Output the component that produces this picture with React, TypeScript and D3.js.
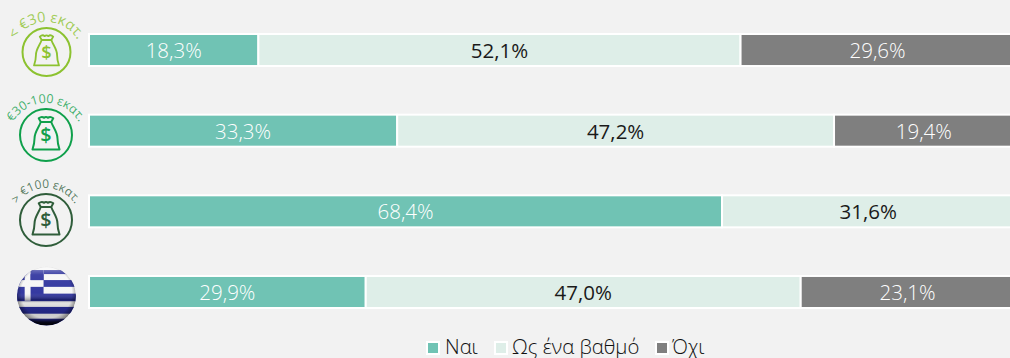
import React from "react";
import * as d3 from "d3";

const categories = ["< €30 εκατ.", "€30-100 εκατ.", "> €100 εκατ.", "Ελλάδα"];
const seriesNames = ["Ναι", "Ως ένα βαθμό", "Όχι"];
const yes = [18.3, 33.3, 68.4, 29.9];
const partly = [52.1, 47.2, 31.6, 47.0];
const no = [29.6, 19.4, 0, 23.1];
const seriesColors = ["#70c3b4", "#deeee8", "#7f7f7f"];
const labelColors = ["#ffffff", "#1a1a1a", "#ffffff"];
const labelWeights = [300, 400, 300];
const iconColors = ["#8cc230", "#0fa04b", "#2f5d3a"];
const FONT = "'Open Sans', sans-serif";

const W = 1010, H = 358;
const x = d3.scaleLinear().domain([0, 100]).range([89, 1014.5]);
const y = d3.scaleBand<number>().domain([0, 1, 2, 3]).range([34, 308]).paddingInner(0.603).paddingOuter(0);
const stack = d3.stack<number>().keys(["0", "1", "2"]).value((i, k) => [yes, partly, no][+k][i]);
const layers = stack([0, 1, 2, 3]);
const fmt = (v: number) => v.toFixed(1).replace(".", ",") + "%";

function Bag({ cx, cy, r, color, label, arcR, arcDy, half, id, fs }: any) {
  const acy = cy + arcDy;
  const p = d3.path();
  p.moveTo(cx + arcR * Math.sin(-half), acy - arcR * Math.cos(half));
  p.arc(cx, acy, arcR, -half - Math.PI / 2, half - Math.PI / 2);
  const k = r / 25;
  return (
    <g>
      <path id={id} d={p.toString()} fill="none" />
      <text fontFamily={FONT} fontSize={fs} fill={color} fontWeight={400} fillOpacity={0.8}>
        <textPath href={`#${id}`} startOffset="50%" textAnchor="middle">{label}</textPath>
      </text>
      <circle cx={cx} cy={cy} r={r} fill="none" stroke={color} strokeWidth={2} />
      <g transform={`translate(${cx},${cy}) scale(${k})`} fill="none" stroke={color} strokeWidth={1.9} strokeLinejoin="round">
        <path d="M-5,-12.5 L-7,-16 Q-4,-18.5 -2,-16.5 Q0,-18 2,-16.5 Q4,-18.5 7,-16 L5,-12.5 Z" />
        <path d="M-5,-12.5 C-7,-7 -11,-3 -11,3 C-11,7 -12,11 -13,14 L13,14 C12,11 11,7 11,3 C11,-3 7,-7 5,-12.5" />
        <text x={0} y={7} textAnchor="middle" fontFamily={FONT} fontSize={19} fontWeight={600} fill={color} stroke="none">$</text>
      </g>
    </g>
  );
}

const flagBlue = "#2a2f9c";
const flagWhite = "#f6f6f6";
// stripe edges as fractions of the globe's height, top to bottom
const stripeEdges = [0, 0.06, 0.13, 0.23, 0.345, 0.46, 0.59, 0.685, 0.8, 0.885, 1];
function Flag({ cx, cy, r }: { cx: number; cy: number; r: number }) {
  const top = cy - r, left = cx - r, d = 2 * r;
  const fy = (f: number) => top + f * d;
  const fx = (f: number) => left + f * d;
  return (
    <g>
      <defs>
        <clipPath id="flagClip"><circle cx={cx} cy={cy} r={r} /></clipPath>
        <linearGradient id="gloss" x1="0" y1="0" x2="0" y2="1">
          <stop offset="0" stopColor="#fff" stopOpacity={0.45} />
          <stop offset="0.14" stopColor="#fff" stopOpacity={0.1} />
          <stop offset="0.45" stopColor="#fff" stopOpacity={0.05} />
          <stop offset="0.56" stopColor="#000" stopOpacity={0.3} />
          <stop offset="0.62" stopColor="#000" stopOpacity={0.08} />
          <stop offset="0.78" stopColor="#000" stopOpacity={0.18} />
          <stop offset="0.88" stopColor="#000" stopOpacity={0.15} />
          <stop offset="0.95" stopColor="#000" stopOpacity={0.8} />
          <stop offset="1" stopColor="#000" stopOpacity={0.95} />
        </linearGradient>
        <radialGradient id="rim" cx="0.5" cy="0.45" r="0.55">
          <stop offset="0.78" stopColor="#000" stopOpacity={0} />
          <stop offset="1" stopColor="#000" stopOpacity={0.5} />
        </radialGradient>
      </defs>
      <g clipPath="url(#flagClip)">
        {stripeEdges.slice(0, -1).map((e, i) => (
          <rect key={i} x={left} y={fy(e)} width={d} height={(stripeEdges[i + 1] - e) * d + 0.3} fill={i % 2 === 0 ? flagWhite : flagBlue} />
        ))}
        {/* canton */}
        <rect x={left} y={fy(0)} width={d * 0.45} height={d * 0.13} fill={flagWhite} />
        <rect x={left} y={fy(0.13)} width={d * 0.45} height={d * 0.45} fill={flagBlue} />
        <rect x={fx(0.13)} y={fy(0)} width={d * 0.1} height={d * 0.58} fill={flagWhite} />
        <rect x={left} y={fy(0.23)} width={d * 0.45} height={d * 0.115} fill={flagWhite} />
        <rect x={fx(0.23)} y={fy(0.06)} width={d * 0.22} height={d * 0.17} fill={flagBlue} />
        <circle cx={cx} cy={cy} r={r} fill="url(#gloss)" />
        <circle cx={cx} cy={cy} r={r} fill="url(#rim)" />
      </g>
    </g>
  );
}

const legendX = [427, 495, 656];
const textX = [445, 512, 672];

export default function App() {
  return (
    <svg width={W} height={H} viewBox={`0 0 ${W} ${H}`} style={{ position: "absolute", left: 0, top: 0, background: "#f2f2f2" }}>
      {layers.map((layer, li) => (
        <g key={li}>
          {layer.map((d, i) => {
            const v = d[1] - d[0];
            if (!v) return null;
            const x0 = x(d[0]), x1 = x(d[1]);
            const by = y(i)!;
            return (
              <g key={i}>
                <rect x={x0} y={by} width={x1 - x0} height={y.bandwidth()} fill={seriesColors[li]} stroke="#ffffff" strokeWidth={2} />
                <text x={(x0 + x1) / 2} y={by + y.bandwidth() / 2 + 8} textAnchor="middle" fontFamily={FONT} fontSize={20.5} fontWeight={labelWeights[li]} fill={labelColors[li]}>{fmt(v)}</text>
              </g>
            );
          })}
        </g>
      ))}
      <Bag id="a0" cx={46.5} cy={52} r={24} color={iconColors[0]} label={categories[0]} arcR={36} arcDy={6} half={1.15} fs={14.5} />
      <Bag id="a1" cx={46} cy={135} r={26} color={iconColors[1]} label={categories[1]} arcR={38} arcDy={6} half={1.15} fs={12.5} />
      <Bag id="a2" cx={46} cy={220} r={26} color={iconColors[2]} label={categories[2]} arcR={34} arcDy={2} half={1.15} fs={12} />
      <Flag cx={46.5} cy={296} r={29.5} />
      {seriesNames.map((n, i) => (
        <g key={n}>
          <rect x={legendX[i]} y={342} width={12} height={12} fill={seriesColors[i]} stroke="#ffffff" strokeWidth={2} />
          <text x={textX[i]} y={354} fontFamily={FONT} fontSize={20.3} fontWeight={300} fill="#111111">{n}</text>
        </g>
      ))}
    </svg>
  );
}
